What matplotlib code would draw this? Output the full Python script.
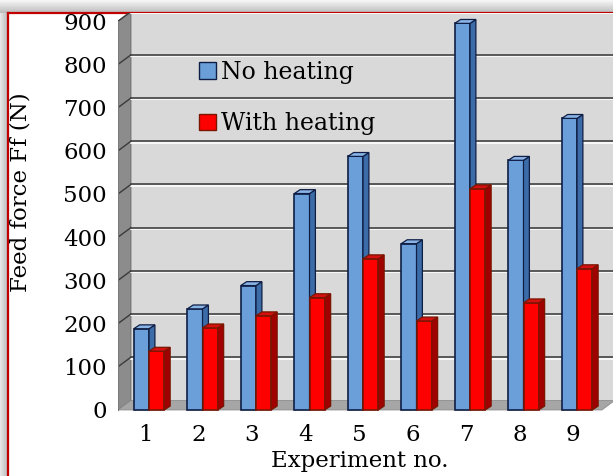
# Feed force with / without heating - 3D-ish clustered columns

import numpy as np
import matplotlib.pyplot as plt
from matplotlib.patches import Polygon, Patch

# data
experiments = ['1', '2', '3', '4', '5', '6', '7', '8', '9']
no_heating = [188, 234, 288, 501, 587, 385, 895, 578, 675]
with_heating = [136, 190, 218, 260, 350, 206, 512, 248, 327]
y_ticks = [0, 100, 200, 300, 400, 500, 600, 700, 800, 900]

W, H = 613, 476
FONT = 'DejaVu Serif'
FS = 16.5

fig = plt.figure(figsize=(W / 100, H / 100), dpi=100)
fig.patch.set_facecolor('white')

# background layer in pixel coords: shadow + red frame + axis titles
bg = fig.add_axes([0, 0, 1, 1], zorder=0)
bg.axis('off')
grad = np.linspace(0.96, 0.74, 13).reshape(-1, 1)
bg.imshow(np.repeat(grad, 2, axis=1), cmap='gray', vmin=0, vmax=1,
          extent=[0, W, 13, 0], aspect='auto')
grad2 = np.linspace(0.90, 0.74, 8).reshape(1, -1)
bg.imshow(np.repeat(grad2, 2, axis=0), cmap='gray', vmin=0, vmax=1,
          extent=[0, 8, H, 13], aspect='auto')
bg.plot([8, W], [13, 13], color='#C00000', lw=1.6)
bg.plot([8, 8], [13, H], color='#C00000', lw=1.6)
bg.text(21, 192, 'Feed force Ff (N)', rotation=90, ha='center', va='center',
        fontsize=FS, family=FONT)
bg.text(360, 450, 'Experiment no.', ha='center', va='top',
        fontsize=FS, family=FONT)
bg.set_xlim(0, W)
bg.set_ylim(H, 0)

# main axes: front axis at x=118px, value 0 at y=410px
ax = fig.add_axes([118 / W, (H - 416) / H, (W - 118) / W, 403 / H], zorder=1)
ax.set_facecolor('none')
x0, x1 = 0.495, 9.748
ax.set_xlim(x0, x1)
ax.set_ylim(-14, 919)
for s in ax.spines.values():
    s.set_visible(False)

# wall depth offsets (data units)
dxw, dyw = 0.24, 22
floor_end = 9.54

# back wall
ax.add_patch(Polygon([(x0 + dxw, dyw), (x1 + 1, dyw), (x1 + 1, 1000), (x0 + dxw, 1000)],
                     closed=True, facecolor='#D9D9D9', edgecolor='none', zorder=0))
# side wall
ax.add_patch(Polygon([(x0, 0), (x0 + dxw, dyw), (x0 + dxw, 900 + dyw), (x0, 900)],
                     closed=True, facecolor='#8C8C8C', edgecolor='#6E6E6E', lw=0.8, zorder=0.5))
# floor
ax.add_patch(Polygon([(x0, 0), (floor_end, 0), (floor_end + dxw, dyw), (x0 + dxw, dyw)],
                     closed=True, facecolor='#A6A6A6', edgecolor='#8A8A8A', lw=0.6, zorder=0.6))

# gridlines on the wall + their diagonal on the side wall
for v in y_ticks[1:]:
    ax.plot([x0 + dxw, x1 + 1], [v + dyw - 3, v + dyw - 3], color='white', lw=1.2, zorder=0.8)
    ax.plot([x0 + dxw, x1 + 1], [v + dyw, v + dyw], color='#4D4D4D', lw=1.3, zorder=0.9)
    ax.plot([x0, x0 + dxw], [v, v + dyw], color='#3A3A3A', lw=1.0, zorder=0.9)
ax.plot([x0, x0], [0, 900], color='#7A7A7A', lw=0.8, zorder=0.9)

# bars
w = 0.285
dx, dy = 0.11, 9
series = [
    (no_heating, -0.21, '#6A9FDA', '#3C6CA8', '#8AB4E6', '#0F1E45', 'No heating'),
    (with_heating, 0.075, '#FF0000', '#A00000', '#D41010', '#7A1500', 'With heating'),
]
for i in range(len(experiments)):
    c = i + 1
    for k, (vals, off, fc, sc, tc, ec, _) in enumerate(series):
        v = vals[i]
        left = c + off
        z = 3 + k
        ax.bar(left, v, width=w, align='edge', color=fc, edgecolor=ec, lw=1.2, zorder=z)
        ax.add_patch(Polygon([(left + w, 0), (left + w + dx, dy), (left + w + dx, v + dy), (left + w, v)],
                             closed=True, facecolor=sc, edgecolor=ec, lw=0.9, zorder=z))
        ax.add_patch(Polygon([(left, v), (left + w, v), (left + w + dx, v + dy), (left + dx, v + dy)],
                             closed=True, facecolor=tc, edgecolor=ec, lw=0.9, zorder=z))

ax.set_xticks(range(1, len(experiments) + 1))
ax.set_xticklabels(experiments, fontsize=FS, family=FONT)
ax.set_yticks(y_ticks)
ax.set_yticklabels([str(t) for t in y_ticks], fontsize=FS, family=FONT)
ax.tick_params(axis='both', length=0)
ax.tick_params(axis='y', pad=8)
ax.tick_params(axis='x', pad=6)

handles = [Patch(facecolor=s[2], edgecolor=s[5], label=s[6]) for s in series]
leg = ax.legend(handles=handles, loc='upper left', bbox_to_anchor=(199 / W, 1 - 61 / H),
                bbox_transform=fig.transFigure, frameon=False, borderpad=0, borderaxespad=0,
                handlelength=0.7, handleheight=0.7, handletextpad=0.25, labelspacing=1.2,
                prop={'family': FONT, 'size': FS + 0.5})

fig.savefig('out.png', dpi=100)
